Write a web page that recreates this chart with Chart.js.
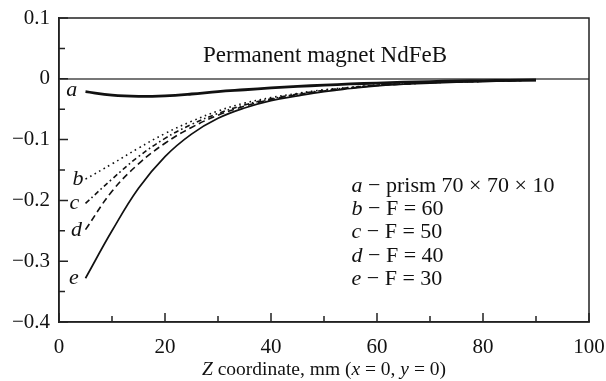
<!DOCTYPE html>
<html>
<head>
<meta charset="utf-8">
<script src="https://cdn.jsdelivr.net/npm/chart.js@4"></script>
<style>
  html, body { margin: 0; padding: 0; background: #fff; }
  canvas { display: block; }
</style>
</head>
<body>
<canvas id="chart" width="606" height="381"></canvas>
<script>
// Z coordinate (mm) where the curves were sampled
const Z = [5, 10, 15, 20, 25, 30, 35, 40, 45, 50, 55, 60, 65, 70, 75, 80, 85, 90];

// a - prism 70 x 70 x 10
const SERIES_A = [-0.021, -0.027, -0.029, -0.028, -0.025, -0.021, -0.018, -0.015, -0.0125,
                  -0.0105, -0.0085, -0.007, -0.0055, -0.0045, -0.0035, -0.003, -0.0025, -0.002];
// b - F = 60
const SERIES_B = [-0.165, -0.140, -0.114, -0.090, -0.070, -0.053, -0.040, -0.031, -0.024,
                  -0.018, -0.014, -0.010, -0.008, -0.006, -0.005, -0.004, -0.003, -0.002];
// c - F = 50
const SERIES_C = [-0.205, -0.165, -0.128, -0.098, -0.075, -0.057, -0.043, -0.033, -0.025,
                  -0.019, -0.0145, -0.0105, -0.0085, -0.0065, -0.005, -0.004, -0.003, -0.002];
// d - F = 40
const SERIES_D = [-0.248, -0.185, -0.140, -0.106, -0.080, -0.060, -0.045, -0.034, -0.026,
                  -0.020, -0.015, -0.011, -0.0085, -0.0065, -0.005, -0.004, -0.003, -0.002];
// e - F = 30
const SERIES_E = [-0.328, -0.250, -0.180, -0.128, -0.091, -0.065, -0.048, -0.036, -0.028,
                  -0.021, -0.016, -0.0115, -0.009, -0.007, -0.0055, -0.0045, -0.0035, -0.0025];

const CURVE_LETTERS = ['a', 'b', 'c', 'd', 'e'];
const LEGEND_TEXT = ['prism 70 \u00d7 70 \u00d7 10', 'F = 60', 'F = 50', 'F = 40', 'F = 30'];
// where the letters sit next to the curve starts, in data units
const LETTER_Z = [2.4, 3.6, 2.9, 3.3, 2.8];
const LETTER_V = [-0.019, -0.165, -0.204, -0.249, -0.328];

const TITLE = 'Permanent magnet NdFeB';
const X_TITLE = [['Z', true], [' coordinate, mm (', false], ['x', true], [' = 0, ', false], ['y', true], [' = 0)', false]];

const SERIF = '"Liberation Serif", "DejaVu Serif", serif';

function points(values) {
  return Z.map((z, i) => ({ x: z, y: values[i] }));
}

function curve(values, width, dash) {
  return {
    data: points(values),
    borderColor: '#111',
    borderWidth: width,
    borderDash: dash,
    pointRadius: 0,
    fill: false,
    tension: 0.4,
  };
}

function minus(v) {
  const s = Math.abs(v) < 1e-9 ? '0' : v.toFixed(1);
  return s.replace('-', '\u2212');
}

function drawRuns(ctx, runs, cx, y, size) {
  const fontOf = it => (it ? 'italic ' : '') + size + 'px ' + SERIF;
  let total = 0;
  runs.forEach(([t, it]) => { ctx.font = fontOf(it); total += ctx.measureText(t).width; });
  let x = cx - total / 2;
  ctx.textAlign = 'left';
  runs.forEach(([t, it]) => {
    ctx.font = fontOf(it);
    ctx.fillText(t, x, y);
    x += ctx.measureText(t).width;
  });
}

const decorations = {
  id: 'decorations',
  beforeDraw(chart) {
    const { ctx } = chart;
    ctx.save();
    ctx.fillStyle = '#fff';
    ctx.fillRect(0, 0, chart.width, chart.height);
    ctx.restore();
  },
  afterDraw(chart) {
    const { ctx, chartArea: a, scales } = chart;
    const xs = scales.x, ys = scales.y;
    ctx.save();
    ctx.strokeStyle = '#222';
    ctx.lineWidth = 1.5;
    ctx.strokeRect(a.left, a.top, a.right - a.left, a.bottom - a.top);

    // inward ticks, major and minor
    ctx.beginPath();
    const yt = ys.ticks.map(t => t.value);
    yt.forEach((v, i) => {
      const p = ys.getPixelForValue(v);
      ctx.moveTo(a.left, p); ctx.lineTo(a.left + 9, p);
      if (i > 0) {
        const m = ys.getPixelForValue((v + yt[i - 1]) / 2);
        ctx.moveTo(a.left, m); ctx.lineTo(a.left + 6, m);
      }
    });
    const xt = xs.ticks.map(t => t.value);
    xt.forEach((v, i) => {
      const p = xs.getPixelForValue(v);
      ctx.moveTo(p, a.bottom); ctx.lineTo(p, a.bottom - 9);
      if (i > 0) {
        const m = xs.getPixelForValue((v + xt[i - 1]) / 2);
        ctx.moveTo(m, a.bottom); ctx.lineTo(m, a.bottom - 6);
      }
    });
    ctx.stroke();

    ctx.fillStyle = '#111';
    ctx.textBaseline = 'middle';

    // title inside the plot
    ctx.font = '23px ' + SERIF;
    ctx.textAlign = 'center';
    ctx.fillText(TITLE, xs.getPixelForValue(50.2), ys.getPixelForValue(0.037));

    // curve letters
    ctx.font = 'italic 22px ' + SERIF;
    CURVE_LETTERS.forEach((l, i) => {
      ctx.fillText(l, xs.getPixelForValue(LETTER_Z[i]), ys.getPixelForValue(LETTER_V[i]));
    });

    // key text block
    const kx = xs.getPixelForValue(55.2);
    CURVE_LETTERS.forEach((l, i) => {
      const ky = ys.getPixelForValue(-0.176 - i * 0.0385);
      ctx.textAlign = 'left';
      ctx.font = 'italic 22px ' + SERIF;
      ctx.fillText(l, kx, ky);
      const w = ctx.measureText(l).width;
      ctx.font = '22px ' + SERIF;
      ctx.fillText(' \u2212 ' + LEGEND_TEXT[i], kx + w, ky);
    });

    // x axis title with italic variables
    drawRuns(ctx, X_TITLE, (a.left + a.right) / 2, 370, 19.5);
    ctx.restore();
  },
};

new Chart(document.getElementById('chart'), {
  type: 'line',
  data: {
    datasets: [
      curve(SERIES_A, 2.8, []),
      curve(SERIES_B, 1.6, [1.6, 3.6]),
      curve(SERIES_C, 1.6, [5, 3, 1.6, 3]),
      curve(SERIES_D, 1.6, [6.5, 4]),
      curve(SERIES_E, 1.7, []),
    ],
  },
  options: {
    responsive: false,
    devicePixelRatio: 1,
    animation: false,
    layout: { padding: { left: 0, right: 17, top: 18, bottom: 0 } },
    plugins: { legend: { display: false }, tooltip: { enabled: false } },
    scales: {
      x: {
        type: 'linear',
        min: 0, max: 100,
        afterFit: s => { s.height = 59; s.paddingLeft = 0; s.paddingRight = 0; },
        ticks: { stepSize: 20, color: '#111', padding: 5, font: { family: SERIF, size: 21 } },
        grid: { display: false },
        border: { display: true, color: '#222', width: 1.5 },
      },
      y: {
        min: -0.4, max: 0.1,
        afterFit: s => { s.width = 59; s.paddingTop = 0; s.paddingBottom = 0; },
        ticks: {
          stepSize: 0.1, color: '#111', padding: 9,
          font: { family: SERIF, size: 21 },
          callback: v => minus(v),
        },
        grid: {
          drawTicks: false,
          lineWidth: 2,
          color: c => (Math.abs(c.tick.value) < 1e-9 ? '#777' : 'rgba(0,0,0,0)'),
        },
        border: { display: true, color: '#222', width: 1.5 },
      },
    },
  },
  plugins: [decorations],
});
</script>
</body>
</html>
